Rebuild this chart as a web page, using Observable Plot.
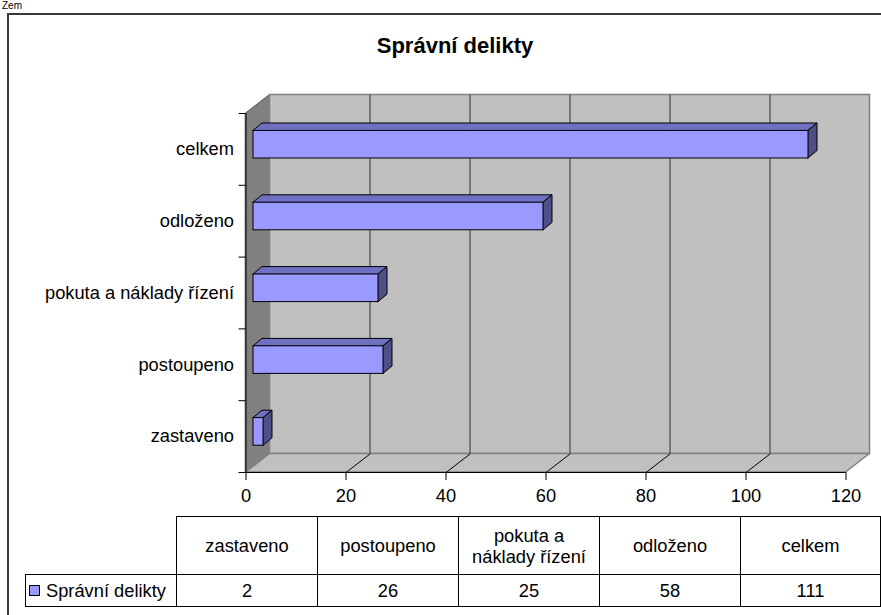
<!DOCTYPE html>
<html>
<head>
<meta charset="utf-8">
<script src="https://cdn.jsdelivr.net/npm/d3@7"></script>
<script src="https://cdn.jsdelivr.net/npm/@observablehq/plot@0.6"></script>
<style>
  html, body { margin: 0; padding: 0; background: #fff; }
  body { width: 881px; height: 615px; overflow: hidden; position: relative;
         font-family: "Liberation Sans", Arial, sans-serif; color: #000; }
  #chart { position: absolute; left: 0; top: 0; }
  #frame { position: absolute; left: 7px; top: 13px; width: 900px; height: 700px;
           border: 2px solid #3a3a3a; box-sizing: border-box; pointer-events: none; }
  #cut { position: absolute; left: 2px; top: 0px; font-size: 10px; line-height: 11px; white-space: nowrap; }
  #title { position: absolute; left: 0; width: 910px; top: 33px; text-align: center;
           font-weight: bold; font-size: 22px; line-height: 26px; }
  .cell { position: absolute; box-sizing: border-box; border: 1px solid #000;
          display: flex; align-items: center; justify-content: center; text-align: center;
          font-size: 18.3px; line-height: 21px; padding: 0 10px; }
  .swatch { display: inline-block; width: 9px; height: 9px; background: #9999FF;
            border: 1px solid #000; margin-right: 6px; }
</style>
</head>
<body>
<div id="cut">Zem</div>
<div id="chart"></div>
<div id="title"></div>
<div id="table"></div>
<div id="frame"></div>
<script>
// ---- data ----
const title = "Správní delikty";
const seriesName = "Správní delikty";
const categories = ["zastaveno", "postoupeno", "pokuta a náklady řízení", "odloženo", "celkem"];
const values = [2, 26, 25, 58, 111];
const xTicks = [0, 20, 40, 60, 80, 100, 120];

// ---- layout / style constants ----
const W = 881, H = 510, ML = 245.5, MR = 35.5, MT = 113, MB = 38;
const xDomain = [0, 120], yDomain = [0, categories.length];
const xPerPx = (xDomain[1] - xDomain[0]) / (W - ML - MR);
const yPerPx = (yDomain[1] - yDomain[0]) / (H - MT - MB);
const wallDX = 24 * xPerPx, wallDY = 18.5 * yPerPx;
const barDX = 9 * xPerPx, barDY = 7.4 * yPerPx;
const barHalf = 13.8 * yPerPx;
const barShift = {dx: 7.5, dy: -4.7};

const bars = categories.map((cat, i) => ({cat, v: values[i], c: i + 0.5}));
const topFaces = bars.flatMap(b => [
  {cat: b.cat, y: b.c + barHalf, x1: 0, x2: b.v},
  {cat: b.cat, y: b.c + barHalf + barDY, x1: barDX, x2: b.v + barDX}
]);
const sideFaces = bars.flatMap(b => [
  {cat: b.cat, x: b.v, y1: b.c - barHalf, y2: b.c + barHalf},
  {cat: b.cat, x: b.v + barDX, y1: b.c - barHalf + barDY, y2: b.c + barHalf + barDY}
]);
const boundaries = d3.range(0, categories.length + 1);
const centers = categories.map((c, i) => i + 0.5);

const chart = Plot.plot({
  width: W, height: H,
  marginLeft: ML, marginRight: MR, marginTop: MT, marginBottom: MB,
  style: {background: "transparent", fontFamily: "Liberation Sans, Arial, sans-serif", fontSize: "18.3px", color: "#000", overflow: "visible"},
  x: {domain: xDomain},
  y: {domain: yDomain},
  marks: [
    // side wall
    Plot.areaY([{x: 0, y1: 0, y2: yDomain[1]}, {x: wallDX, y1: wallDY, y2: yDomain[1] + wallDY}],
      {x: "x", y1: "y1", y2: "y2", fill: "#808080", stroke: "#555", strokeWidth: 1}),
    // back wall
    Plot.rect([0], {x1: wallDX, x2: xDomain[1] + wallDX, y1: wallDY, y2: yDomain[1] + wallDY,
      fill: "#C0C0C0", stroke: "#808080", strokeWidth: 1.5}),
    // floor
    Plot.areaX([{y: 0, x1: 0, x2: xDomain[1]}, {y: wallDY, x1: wallDX, x2: xDomain[1] + wallDX}],
      {y: "y", x1: "x1", x2: "x2", fill: "#C0C0C0", stroke: "#808080", strokeWidth: 1.5}),
    // back gridlines
    Plot.ruleX(xTicks.slice(1, -1), {x: t => t + wallDX, y1: wallDY, y2: yDomain[1] + wallDY, stroke: "#333", strokeWidth: 1}),
    // floor diagonals
    Plot.link(xTicks.slice(1, -1), {x1: t => t, y1: 0, x2: t => t + wallDX, y2: wallDY, stroke: "#000", strokeWidth: 1}),
    // axis lines
    Plot.ruleY([0], {x1: xDomain[0], x2: xDomain[1], stroke: "#000"}),
    Plot.ruleX([0], {y1: yDomain[0], y2: yDomain[1], stroke: "#000"}),
    Plot.axisX({ticks: xTicks, tickSize: 8, tickPadding: 8, label: null, stroke: "#000"}),
    Plot.axisY({ticks: boundaries, tickSize: 7, tickFormat: () => "", label: null, stroke: "#000"}),
    Plot.axisY({ticks: centers, tickSize: 0, tickPadding: 12, label: null,
      tickFormat: d => categories[Math.floor(d)]}),
    // bars (3D)
    Plot.areaX(topFaces, {y: "y", x1: "x1", x2: "x2", z: "cat", fill: "#7070C2", stroke: "#000", strokeWidth: 1, ...barShift}),
    Plot.areaY(sideFaces, {x: "x", y1: "y1", y2: "y2", z: "cat", fill: "#4F4F88", stroke: "#000", strokeWidth: 1, ...barShift}),
    Plot.rect(bars, {x1: 0, x2: "v", y1: d => d.c - barHalf, y2: d => d.c + barHalf,
      fill: "#9999FF", stroke: "#000", strokeWidth: 1, ...barShift})
  ]
});
document.getElementById("chart").appendChild(chart);
document.getElementById("title").textContent = title;

// ---- data table ----
const colX = [176, 317, 458, 599, 740, 880];
const rowY = [516, 574, 606];
const tbl = document.getElementById("table");
function cell(x0, x1, y0, y1, html) {
  const d = document.createElement("div");
  d.className = "cell";
  d.style.left = x0 + "px"; d.style.top = y0 + "px";
  d.style.width = (x1 - x0 + 1) + "px"; d.style.height = (y1 - y0 + 1) + "px";
  d.innerHTML = html;
  tbl.appendChild(d);
  return d;
}
categories.forEach((c, i) => {
  cell(colX[i], colX[i + 1], rowY[0], rowY[1], c);
  cell(colX[i], colX[i + 1], rowY[1], rowY[2], String(values[i]));
});
const leg = cell(25, colX[0], rowY[1], rowY[2], "");
leg.style.justifyContent = "flex-start";
leg.style.padding = "0 0 0 3px";
leg.innerHTML = '<span class="swatch"></span>';
leg.appendChild(document.createTextNode(seriesName));
</script>
</body>
</html>
